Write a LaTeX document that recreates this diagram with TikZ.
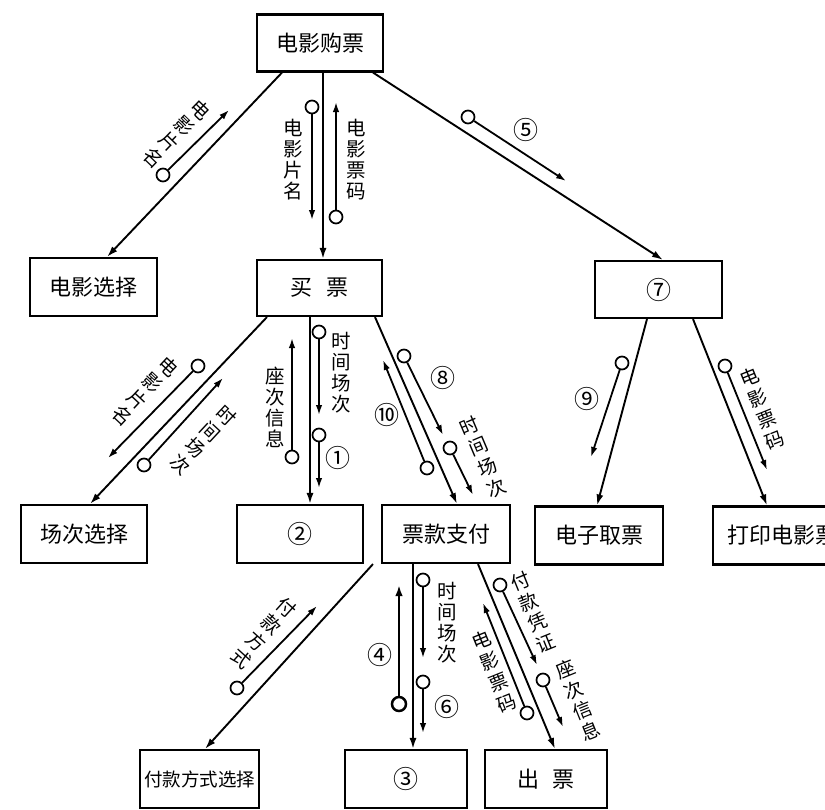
\documentclass[tikz,border=0pt]{standalone}
\usepackage{fontspec}
\newfontfamily\cjk{Noto Sans CJK SC}
\usetikzlibrary{arrows.meta}
\begin{document}
\begin{tikzpicture}[x=1pt,y=-1pt,
  box/.style={draw,line width=2.1pt,rectangle,inner sep=0pt,
    font=\cjk\fontsize{22}{24}\selectfont,minimum width=126pt,minimum height=57pt},
  mainline/.style={line width=1.9pt,-{Latex[length=11pt,width=7pt]}},
  flow/.style={line width=1.8pt,-{Latex[length=10pt,width=6.5pt]}},
  boldflow/.style={line width=2.6pt,-{Latex[length=11pt,width=7.5pt]}},
  dot/.style={circle,draw,line width=1.7pt,minimum size=13pt,inner sep=0pt,fill=white},
  bigdot/.style={circle,draw,line width=2.5pt,minimum size=14pt,inner sep=0pt,fill=white},
  lab/.style={font=\cjk\fontsize{19.5}{21}\selectfont,align=center,inner sep=0pt},
  slab/.style={font=\cjk\fontsize{19}{22.5}\selectfont,align=center,inner sep=0pt},
  num/.style={font=\cjk\fontsize{25}{26}\selectfont,inner sep=0pt}
]
\useasboundingbox (0,0) rectangle (825,809);
\fill[white] (0,0) rectangle (825,809);

% boxes
\node[box] (top) at (320,43) {电影购票};
\node[box,minimum width=127pt,minimum height=58pt] (xuanze) at (93.5,287) {电影选择};
\node[box,minimum width=125pt,minimum height=56pt] (mai) at (319.5,288) {买\hspace{0.6em}票};
\node[box,minimum width=127pt,font=\cjk\fontsize{25}{26}\selectfont] (seven) at (658.5,289.5) {⑦};
\node[box,minimum height=58pt] (changci) at (84,534) {场次选择};
\node[box,minimum height=58pt,font=\cjk\fontsize{25}{26}\selectfont] (two) at (300,534) {②};
\node[box,minimum width=128pt,minimum height=58pt] (pay) at (446,534) {票款支付};
\node[box,minimum width=128pt,minimum height=58pt] (dianzi) at (599,535.5) {电子取票};
\node[box,minimum width=138pt,minimum height=58pt] (print) at (782,535.5) {打印电影票};
\node[box,minimum width=119pt,minimum height=58pt,font=\cjk\fontsize{18.5}{20}\selectfont] (fukuan) at (199.5,779) {付款方式选择};
\node[box,minimum width=122pt,minimum height=58pt,font=\cjk\fontsize{25}{26}\selectfont] (three) at (406,779) {③};
\node[box,minimum width=122pt,minimum height=58pt] (chupiao) at (546,779) {出\hspace{0.6em}票};

% main connectors
\draw[mainline] ([xshift=-38pt]top.south) -- ([xshift=13.5pt]xuanze.north);
\draw[mainline] ([xshift=3pt]top.south) -- ([xshift=3.5pt]mai.north);
\draw[mainline] ([xshift=53pt]top.south) -- ([xshift=4.5pt]seven.north);
\draw[mainline] ([xshift=-52.5pt]mai.south) -- ([xshift=6pt]changci.north);
\draw[mainline] ([xshift=-9.5pt]mai.south) -- ([xshift=10pt]two.north);
\draw[mainline] ([xshift=55.5pt]mai.south) -- ([xshift=11pt]pay.north);
\draw[mainline] ([xshift=-11.5pt]seven.south) -- ([xshift=-2pt]dianzi.north);
\draw[mainline] ([xshift=34.5pt]seven.south) -- ([xshift=-15pt]print.north);
\draw[mainline] ([xshift=-73pt]pay.south) -- ([xshift=5.5pt]fukuan.north);
\draw[mainline] ([xshift=-33pt]pay.south) -- ([xshift=7pt]three.north);
\draw[mainline] ([xshift=32pt]pay.south) -- ([xshift=9pt]chupiao.north);

% data flows
\node[dot] (fa) at (163,175) {}; \coordinate (fae) at (229,110); \draw[flow] (fa) -- (fae);
\node[dot] (fb) at (312,107) {}; \coordinate (fbe) at (312,220); \draw[flow] (fb) -- (fbe);
\node[dot] (fc) at (336,217) {}; \coordinate (fce) at (336,102); \draw[flow] (fc) -- (fce);
\node[dot] (fd) at (468,117) {}; \coordinate (fde) at (566,181); \draw[flow] (fd) -- (fde);
\node[dot] (fe) at (198,366) {}; \coordinate (fee) at (108,458); \draw[flow] (fe) -- (fee);
\node[dot] (ff) at (144,465) {}; \coordinate (ffe) at (223,378); \draw[flow] (ff) -- (ffe);
\node[dot] (fg) at (292,457) {}; \coordinate (fge) at (292,338); \draw[flow] (fg) -- (fge);
\node[dot] (fh) at (319,332) {}; \coordinate (fhe) at (319,415); \draw[flow] (fh) -- (fhe);
\node[dot] (fi) at (319,435) {}; \coordinate (fie) at (319,488); \draw[flow] (fi) -- (fie);
\node[dot] (fj) at (427,468) {}; \coordinate (fje) at (383,360); \draw[flow] (fj) -- (fje);
\node[dot] (fk) at (404,356) {}; \coordinate (fke) at (443,435); \draw[flow] (fk) -- (fke);
\node[dot] (fl) at (450,448) {}; \coordinate (fle) at (473,495); \draw[flow] (fl) -- (fle);
\node[dot] (fm) at (622,363) {}; \coordinate (fme) at (591,457); \draw[flow] (fm) -- (fme);
\node[dot] (fn) at (725,366) {}; \coordinate (fne) at (767,470); \draw[flow] (fn) -- (fne);
\node[dot] (fo) at (237,688) {}; \coordinate (foe) at (317,606); \draw[flow] (fo) -- (foe);
\node[bigdot] (fp) at (399,704) {}; \coordinate (fpe) at (399,585); \draw[boldflow] (fp) -- (fpe);
\node[dot] (fq) at (423,580) {}; \coordinate (fqe) at (423,658); \draw[flow] (fq) -- (fqe);
\node[dot] (fr) at (423,682) {}; \coordinate (fre) at (423,733); \draw[flow] (fr) -- (fre);
\node[dot] (fs) at (500,585) {}; \coordinate (fse) at (537,665); \draw[flow] (fs) -- (fse);
\node[dot] (ft) at (527,713) {}; \coordinate (fte) at (483,603); \draw[flow] (ft) -- (fte);
\node[dot] (fu) at (543,680) {}; \coordinate (fue) at (563,727); \draw[flow] (fu) -- (fue);

% labels
\node[slab,rotate=-44] (la) at (177,134) {电\\影\\片\\名};
\node[lab] (lb) at (293,160) {电\\影\\片\\名};
\node[lab] (lc) at (356,160) {电\\影\\票\\码};
\node[num] (l5) at (526,130) {⑤};
\node[slab,rotate=-43] (le) at (145,391) {电\\影\\片\\名};
\node[slab,rotate=-43] (lf) at (203,440) {时\\间\\场\\次};
\node[lab] (lg) at (275,407) {座\\次\\信\\息};
\node[lab] (lh) at (341,373) {时\\间\\场\\次};
\node[num] (l1) at (338,458) {①};
\node[num] (l10) at (387,415) {⑩};
\node[num] (l8) at (443,378) {⑧};
\node[slab,rotate=23] (ll) at (483,457) {时\\间\\场\\次};
\node[num] (l9) at (587,399) {⑨};
\node[slab,rotate=22] (ln) at (762,409) {电\\影\\票\\码};
\node[slab,rotate=-42] (lo) at (264,633) {付\\款\\方\\式};
\node[num] (l4) at (380,655) {④};
\node[lab] (lq) at (447,623) {时\\间\\场\\次};
\node[num] (l6) at (447,707) {⑥};
\node[slab,rotate=22] (ls) at (533,612) {付\\款\\凭\\证};
\node[slab,rotate=22] (lt) at (494,672) {电\\影\\票\\码};
\node[slab,rotate=22] (lu) at (578,700) {座\\次\\信\\息};
\end{tikzpicture}
\end{document}
